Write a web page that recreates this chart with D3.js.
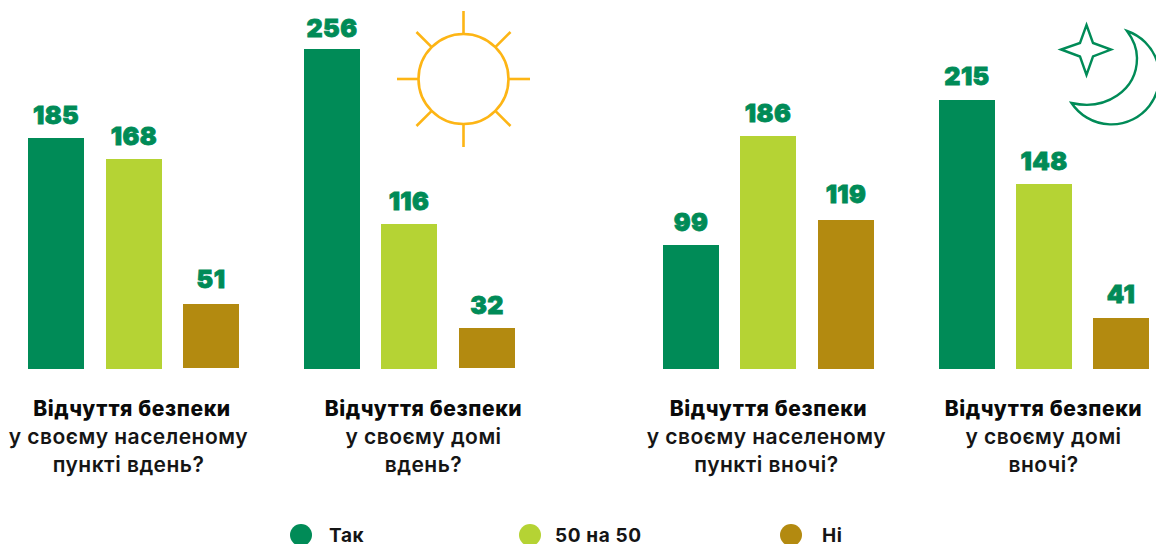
<!DOCTYPE html>
<html><head><meta charset="utf-8">
<script src="https://cdn.jsdelivr.net/npm/d3@7"></script>
<style>html,body{margin:0;padding:0;background:#fff}svg{display:block}</style></head>
<body><svg id="c" width="1156" height="544"></svg>
<script>
const answers = ["Так", "50 на 50", "Ні"];
const dayTown = [185, 168, 51];
const dayHome = [256, 116, 32];
const nightTown = [99, 186, 119];
const nightHome = [215, 148, 41];
const series = [dayTown, dayHome, nightTown, nightHome];
const titleLine = "Відчуття безпеки";
const subLines = [
  ["у своєму населеному", "пункті вдень?"],
  ["у своєму домі", "вдень?"],
  ["у своєму населеному", "пункті вночі?"],
  ["у своєму домі", "вночі?"]
];
const colors = ["#008B57", "#B5D334", "#B38A10"];
const panelLeft = [28.4, 303.9, 662.9, 938.6];
const titleCenter = [132, 423.5, 768.5, 1043.5];
const subCenter = [128.5, 423.5, 766.5, 1043.5];
const legendX = [301, 530, 791];
const legendTextX = [329, 555, 822];
const labelNudge = [[0, 0, -3], [2, 0, -1], [0, -1, -3], [-1, 0, -1]];
const barNudge = [[0, 0, -1], [0, 0, -1], [0, 0, 0], [0, 0, 0]];
const FONT = "Inter, 'Noto Sans', sans-serif";

const svg = d3.select("#c");
const y = d3.scaleLinear().domain([0, 256]).range([369, 49]);
const x = d3.scaleBand().domain(answers).range([0, 210.8]).paddingInner(1 - 56 / 77.4).paddingOuter(0);
const color = d3.scaleOrdinal(answers, colors);

series.forEach((vals, p) => {
  const g = svg.append("g");
  const rows = answers.map((a, i) => ({a, v: vals[i], i}));
  const left = d => Math.round(panelLeft[p] + x(d.a));
  g.selectAll("rect").data(rows).join("rect")
    .attr("x", left).attr("width", 56)
    .attr("y", d => Math.round(y(d.v) - 0.2) + barNudge[p][d.i])
    .attr("height", d => Math.round(y(0)) - Math.round(y(d.v) - 0.2))
    .attr("fill", d => color(d.a));
  g.selectAll("text").data(rows).join("text")
    .attr("x", d => left(d) + 28)
    .attr("y", d => y(d.v) - 14 + labelNudge[p][d.i])
    .attr("text-anchor", "middle")
    .attr("font-family", FONT).attr("font-weight", 900).attr("font-size", 25)
    .attr("letter-spacing", 0.4)
    .attr("fill", colors[0]).attr("stroke", colors[0]).attr("stroke-width", 0.8)
    .text(d => d.v);

  svg.append("text").attr("x", titleCenter[p]).attr("y", 416).attr("text-anchor", "middle")
    .attr("font-family", FONT).attr("font-weight", 800).attr("font-size", 21).attr("letter-spacing", 0.6)
    .attr("fill", "#0a0a0a").text(titleLine);
  subLines[p].forEach((t, i) => {
    svg.append("text").attr("x", subCenter[p]).attr("y", 444 + i * 28).attr("text-anchor", "middle")
      .attr("font-family", FONT).attr("font-weight", 600).attr("font-size", 21).attr("letter-spacing", 0.47)
      .attr("fill", "#151515").text(t);
  });
});

answers.forEach((a, i) => {
  svg.append("circle").attr("cx", legendX[i]).attr("cy", 535).attr("r", 11).attr("fill", colors[i]);
  svg.append("text").attr("x", legendTextX[i]).attr("y", 542)
    .attr("font-family", FONT).attr("font-weight", 700).attr("font-size", 19).attr("letter-spacing", 0.6)
    .attr("fill", "#151515").text(a);
});

// Sun
const sun = svg.append("g").attr("transform", "translate(463.5,79)")
  .attr("fill", "none").attr("stroke", "#FDB515").attr("stroke-width", 2.6);
sun.append("circle").attr("r", 45);
const rayEnd = [66.5, 66.5, 68, 66.5, 66.5, 66.5, 68, 66.5];
rayEnd.forEach((r1, k) => {
  const a = k * Math.PI / 4, r0 = 45;
  sun.append("line").attr("x1", r0 * Math.cos(a)).attr("y1", r0 * Math.sin(a))
    .attr("x2", r1 * Math.cos(a)).attr("y2", r1 * Math.sin(a));
});

// Moon and star
const night = svg.append("g").attr("fill", "none").attr("stroke", colors[0]).attr("stroke-width", 2.4);
night.append("path").attr("d", "M1086.5,25 L1093,43 L1111,49.5 L1093,56.5 L1086.5,75 L1080,56.5 L1061,49.5 L1080,43 Z");
night.append("path").attr("d", "M1127,31 A48,48 0 1 1 1071.5,103 C1106,111 1137,90 1137,58 C1137,48 1133,39 1127,31 Z");
</script></body></html>
